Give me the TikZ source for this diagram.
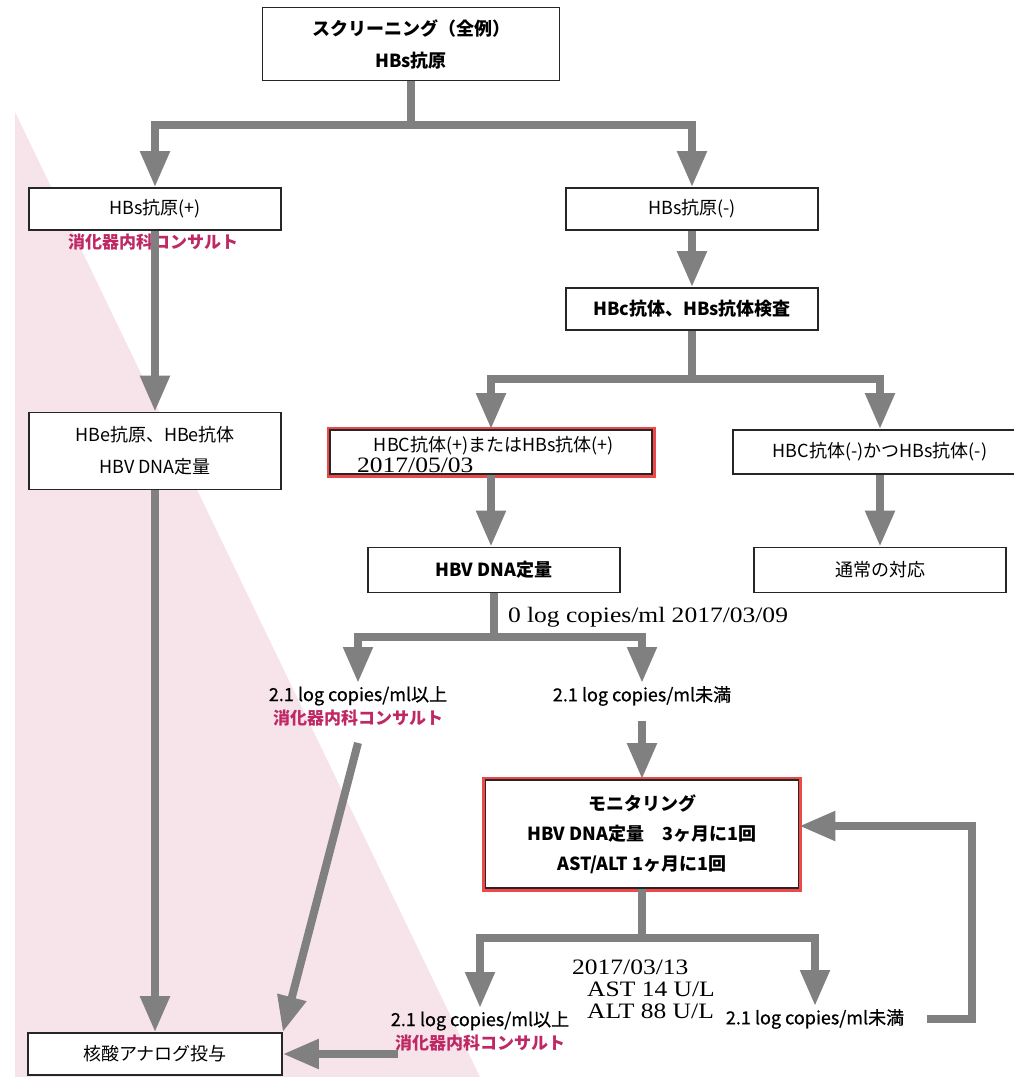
\documentclass[tikz,border=0pt]{standalone}
\usepackage{fontspec}
\setmainfont{Noto Sans CJK JP}
\newfontfamily\tms{Liberation Serif}[FakeStretch=1.16]
\newfontfamily\heavy{Noto Sans CJK JP}[FakeBold=0.7]
\usetikzlibrary{arrows.meta}
\definecolor{flowgray}{RGB}{128,128,128}
\definecolor{pinkbg}{RGB}{246,228,234}
\definecolor{consult}{RGB}{190,40,100}
\definecolor{alert}{RGB}{238,72,72}
\tikzset{
  box/.style={draw=black!85, line width=1.6pt, fill=white, minimum width=252pt,
    minimum height=42pt, inner sep=0pt, align=center, font=\fontsize{18}{32}\selectfont},
  hot/.style={preaction={draw=alert, line width=7pt}},
  link/.style={draw=flowgray, line width=8pt},
  arr/.style={link, -{Triangle[length=36pt,width=28pt]}},
  note/.style={inner sep=3pt, align=center, font=\heavy\fontsize{18}{23}\selectfont},
  red note/.style={text=consult, font=\bfseries\fontsize{17}{22}\selectfont},
  tnote/.style={inner sep=0pt, font=\tms\fontsize{22}{23}\selectfont},
}
\newcommand{\consult}{\textcolor{consult}{\normalfont\bfseries\fontsize{17}{22}\selectfont 消化器内科コンサルト}}
\begin{document}
\begin{tikzpicture}[x=1pt, y=-1pt]
  \clip (0,0) rectangle (1014,1077);
  \fill[pinkbg] (15,112) -- (480,1077) -- (15,1077) -- cycle;
  % boxes
  \node[box, minimum width=297pt, minimum height=73pt, font=\bfseries\fontsize{18}{32}\selectfont]
    (top) at (411,44) {スクリーニング（全例）\\HBs抗原};
  \node[box] (hbsp) at (155,209) {HBs抗原(+)};
  \node[red note] (cons1) at (153,242) {消化器内科コンサルト};
  \node[box, minimum height=77pt] (hbe) at (155,451) {HBe抗原、HBe抗体\\HBV DNA定量};
  \node[box, minimum width=254pt] (kaku) at (155,1054) {核酸アナログ投与};
  \node[box] (hbsn) at (692,209) {HBs抗原(-)};
  \node[box, font=\bfseries\fontsize{18}{32}\selectfont] (hbc) at (692,309) {HBc抗体、HBs抗体検査};
  \node[box, hot, minimum width=322pt, minimum height=44pt] (hbcp) at (491,452) {};
  \node[inner sep=0pt, font=\fontsize{18}{22}\selectfont] (hbcptxt) at (494,446) {HBC抗体(+)またはHBs抗体(+)};
  \node[tnote, anchor=west] (date1) at (357,465) {2017/05/03};
  \node[box, minimum width=294pt, minimum height=44pt] (hbcn) at (880,452) {HBC抗体(-)かつHBs抗体(-)};
  \node[box, minimum height=45pt, font=\bfseries\fontsize{18}{32}\selectfont] (hbv) at (494,570) {HBV DNA定量};
  \node[box, minimum height=45pt] (norm) at (880,570) {通常の対応};
  \node[tnote] (dna0) at (648,617) {0 log copies/ml 2017/03/09};
  \node[note, anchor=north] (hi1) at (358,683) {2.1 log copies/ml以上\\\consult};
  \node[note, anchor=north] (lo1) at (642,683) {2.1 log copies/ml未満};
  \node[box, hot, minimum width=313pt, minimum height=108pt, font=\bfseries\fontsize{18}{30}\selectfont]
    (mon) at (642,834) {モニタリング\\HBV DNA定量　3ヶ月に1回\\AST/ALT 1ヶ月に1回};
  \node[tnote, anchor=west] (date2) at (572,967) {2017/03/13};
  \node[tnote, anchor=west] (ast) at (587,989) {AST 14 U/L};
  \node[tnote, anchor=west] (alt) at (587,1011) {ALT 88 U/L};
  \node[note, anchor=north] (hi2) at (480,1008) {2.1 log copies/ml以上\\\consult};
  \node[note, anchor=north] (lo2) at (815,1006) {2.1 log copies/ml未満};
  % connectors
  \draw[link] (top.south) -- ++(0,44) coordinate (s1);
  \draw[arr] (s1) -| (hbsp.north);
  \draw[arr] (s1) -| (hbsn.north);
  \draw[arr] (hbsp.south) -- (hbe.north);
  \draw[arr] (hbe.south) -- (kaku.north);
  \draw[arr] (hbsn.south) -- (hbc.north);
  \draw[link] (hbc.south) -- ++(0,48) coordinate (s2);
  \draw[arr] (s2) -| (hbcp.north);
  \draw[arr] (s2) -| (hbcn.north);
  \draw[arr] (hbcp.south) -- (hbcp.south |- hbv.north);
  \draw[arr] (hbcn.south) -- (norm.north);
  \draw[link] (hbv.south) -- ++(0,44) coordinate (s3);
  \draw[arr] (s3) -| (hi1.north);
  \draw[arr] (s3) -| (lo1.north);
  \draw[arr] ([yshift=-14pt]hi1.south) -- (kaku.north east);
  \draw[arr] ([yshift=-12pt]lo1.south) -- (mon.north);
  \draw[link] (mon.south) -- ++(0,49) coordinate (s4);
  \draw[arr] (s4) -| (hi2.north);
  \draw[arr] (s4) -| (lo2.north);
  \draw[arr] ([xshift=10pt]hi2.west |- kaku.east) -- (kaku.east);
  \draw[arr] ([xshift=20pt]lo2.east) -- ++(45,0) |- ([yshift=8pt]mon.east);
\end{tikzpicture}
\end{document}
